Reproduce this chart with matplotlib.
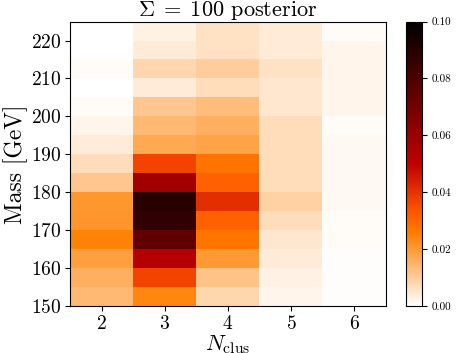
import numpy as np
import matplotlib
matplotlib.use('Agg')
import matplotlib.pyplot as plt

plt.rcParams['font.family'] = 'serif'
plt.rcParams['font.serif'] = ['cmr10']
plt.rcParams['mathtext.fontset'] = 'cm'
plt.rcParams['axes.formatter.use_mathtext'] = True

# number of clusters (columns) and mass bin edges
n_clus = [2, 3, 4, 5, 6]
mass_edges = np.arange(150, 226, 5)

# posterior per mass bin, rows from 150-155 up to 220-225
col2 = [0.014, 0.016, 0.019, 0.0245, 0.021, 0.0206, 0.011, 0.007, 0.004, 0.002, 0.001, 0.0, 0.001, 0.0, 0.0]
col3 = [0.0235, 0.037, 0.053, 0.075, 0.087, 0.0895, 0.058, 0.037, 0.017, 0.014, 0.011, 0.004, 0.008, 0.004, 0.003]
col4 = [0.008, 0.012, 0.020, 0.027, 0.031, 0.041, 0.031, 0.0275, 0.018, 0.016, 0.013, 0.007, 0.010, 0.006, 0.006]
col5 = [0.002, 0.003, 0.004, 0.005, 0.007, 0.009, 0.007, 0.007, 0.007, 0.007, 0.005, 0.005, 0.006, 0.004, 0.004]
col6 = [0.0005, 0.0005, 0.0005, 0.001, 0.001, 0.0015, 0.0015, 0.0015, 0.0015, 0.001, 0.002, 0.002, 0.002, 0.002, 0.001]

post = np.array([col2, col3, col4, col5, col6]).T
x_edges = np.arange(n_clus[0] - 0.5, n_clus[-1] + 1, 1)

fig = plt.figure(figsize=(4.71, 3.53), dpi=100)
ax = fig.add_axes([0.1486, 0.133, 0.670, 0.806])
cax = fig.add_axes([0.862, 0.133, 0.033, 0.806])

mesh = ax.pcolormesh(x_edges, mass_edges, post, cmap='gist_heat_r', vmin=0, vmax=0.1)
ax.set_xticks(n_clus)
ax.set_yticks(np.arange(150, 221, 10))
ax.tick_params(labelsize=14, pad=3)
ax.set_xlabel(r'$N_{\rm clus}$', fontsize=16, labelpad=0)
ax.set_ylabel(r'Mass [GeV]', fontsize=17, labelpad=2)
ax.set_title(r'$\Sigma\;=\;100$ posterior', fontsize=16, pad=2)

cb = fig.colorbar(mesh, cax=cax)
cb.set_ticks([0.0, 0.02, 0.04, 0.06, 0.08, 0.10])
cb.ax.set_yticklabels(['0.00', '0.02', '0.04', '0.06', '0.08', '0.10'])
cb.ax.tick_params(labelsize=8)

fig.savefig('out.png')
